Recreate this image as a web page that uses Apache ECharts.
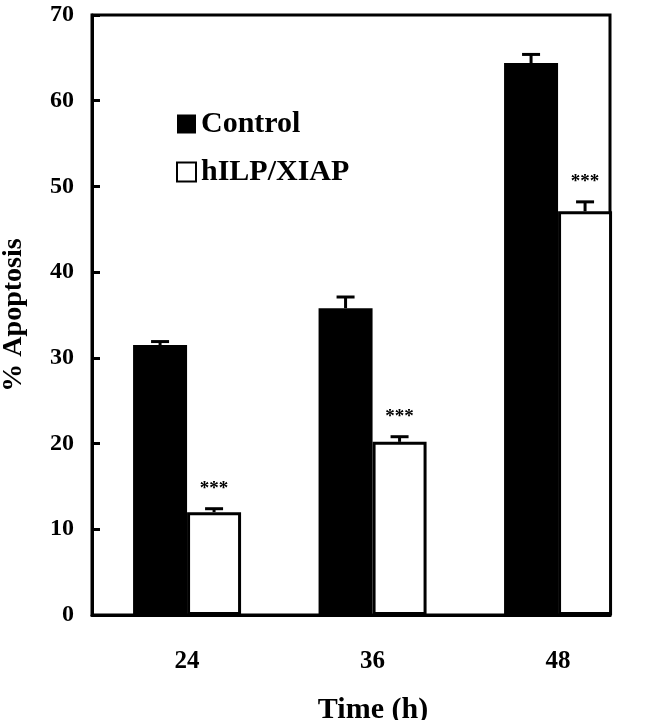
<!DOCTYPE html>
<html>
<head>
<meta charset="utf-8">
<script src="https://cdn.jsdelivr.net/npm/echarts@6/dist/echarts.min.js"></script>
<style>
  html, body { margin: 0; padding: 0; background: #fff; }
  #chart { width: 656px; height: 720px; }
</style>
</head>
<body>
<div id="chart"></div>
<script>
// values
const times = [24, 36, 48]
const control = [31.5, 35.8, 64.4]
const controlErr = [0.4, 1.3, 1.0]
const xiap = [12.0, 20.2, 47.1]
const xiapErr = [0.4, 0.6, 1.1]
const marks = ['***', '***', '***']

const FONT = 'Liberation Serif'
const BAR_W = 54

function errBar(shift, withMark) {
  return function(params, api) {
    const x = api.value(0)
    const v = api.value(1)
    const e = api.value(2)
    const p1 = api.coord([x, v])
    const p2 = api.coord([x, v + e])
    const cx = p1[0] + shift
    const children = [
      { type: 'line', shape: { x1: cx, y1: p1[1], x2: cx, y2: p2[1] }, style: { stroke: '#000', lineWidth: 3 } },
      { type: 'line', shape: { x1: cx - 9, y1: p2[1], x2: cx + 9, y2: p2[1] }, style: { stroke: '#000', lineWidth: 3 } }
    ]
    if (withMark) {
      children.push({
        type: 'text',
        style: {
          text: marks[params.dataIndex], x: cx, y: p2[1] - 10,
          align: 'center', verticalAlign: 'bottom',
          font: 'bold 19px "' + FONT + '"', fill: '#000'
        }
      })
    }
    return { type: 'group', children: children }
  }
}

const chart = echarts.init(document.getElementById('chart'))

chart.setOption({
  animation: false,
  backgroundColor: '#fff',
  grid: {
    left: 92, right: 46, top: 15, bottom: 105,
    outerBoundsMode: 'none',
    containLabel: false,
    show: true, borderColor: '#000', borderWidth: 3
  },
  legend: {
    orient: 'vertical',
    left: 171, top: 104,
    itemWidth: 19, itemHeight: 19, itemGap: 18,
    icon: 'rect',
    data: ['Control', 'hILP/XIAP'],
    textStyle: { fontFamily: FONT, fontWeight: 'bold', fontSize: 30, color: '#000' }
  },
  xAxis: {
    type: 'value',
    min: 17.85, max: 51.36,
    splitLine: { show: false },
    axisLine: { lineStyle: { color: '#000', width: 3 } },
    axisTick: { show: false },
    axisLabel: {
      customValues: times,
      margin: 34,
      fontFamily: FONT, fontWeight: 'bold', fontSize: 25, color: '#000'
    },
    name: 'Time (h)',
    nameLocation: 'middle',
    nameGap: 80,
    nameTextStyle: { fontFamily: FONT, fontWeight: 'bold', fontSize: 30, color: '#000', padding: [0, 0, 0, 44] }
  },
  yAxis: {
    type: 'value',
    min: 0, max: 70, interval: 10,
    splitLine: { show: false },
    axisLine: { lineStyle: { color: '#000', width: 3 } },
    axisTick: { inside: true, length: 8, lineStyle: { color: '#000', width: 3 } },
    axisLabel: { margin: 18, fontFamily: FONT, fontWeight: 'bold', fontSize: 24, color: '#000' },
    name: '% Apoptosis',
    nameLocation: 'middle',
    nameGap: 64,
    nameTextStyle: { fontFamily: FONT, fontWeight: 'bold', fontSize: 28, color: '#000' }
  },
  series: [
    {
      name: 'Control',
      type: 'bar',
      barWidth: BAR_W,
      barGap: '0%',
      itemStyle: { color: '#000' },
      data: times.map((t, i) => [t, control[i]])
    },
    {
      name: 'hILP/XIAP',
      type: 'bar',
      barWidth: BAR_W,
      barGap: '0%',
      itemStyle: { color: '#fff', borderColor: '#000', borderWidth: 3 },
      data: times.map((t, i) => [t, xiap[i]])
    },
    {
      type: 'custom',
      renderItem: errBar(-BAR_W / 2, false),
      z: 3,
      data: times.map((t, i) => [t, control[i], controlErr[i]])
    },
    {
      type: 'custom',
      renderItem: errBar(BAR_W / 2, true),
      z: 3,
      data: times.map((t, i) => [t, xiap[i], xiapErr[i]])
    }
  ]
})
</script>
</body>
</html>
